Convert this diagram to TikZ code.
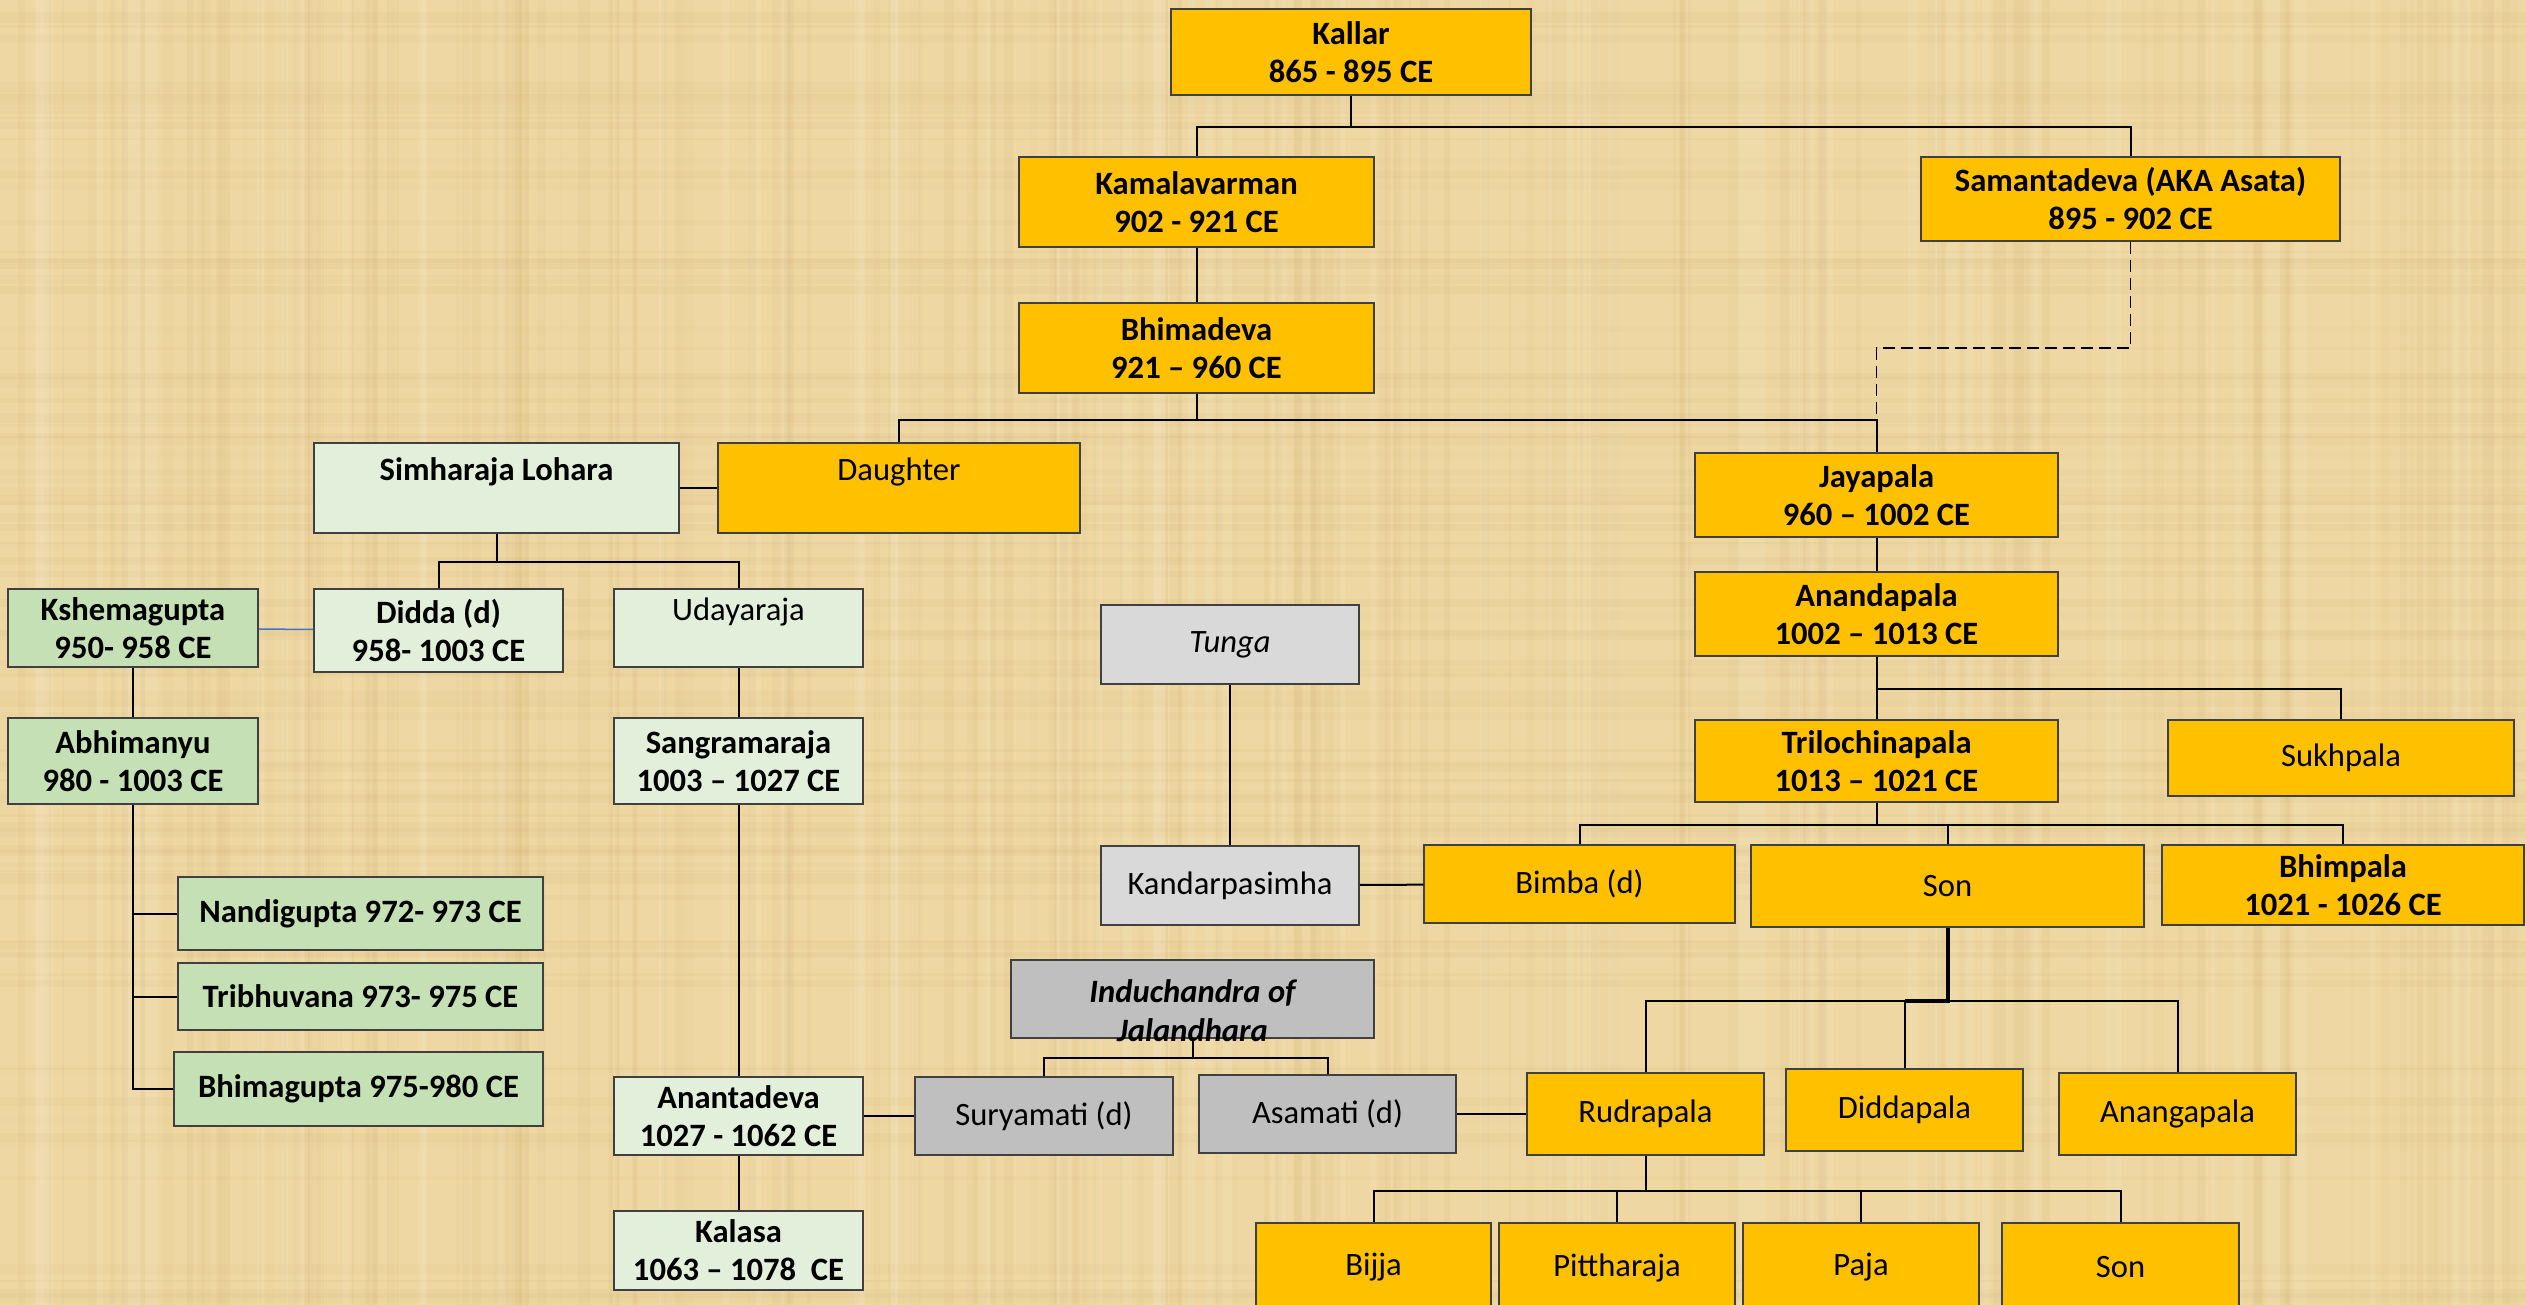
\documentclass[tikz,border=0pt]{standalone}
\usepackage{fontspec}
\setmainfont{Carlito}
\usepackage{tikz}

\definecolor{paper}{RGB}{238,215,163}
\definecolor{grain}{RGB}{196,164,96}
\definecolor{goldfill}{RGB}{255,192,0}
\definecolor{palefill}{RGB}{226,239,218}
\definecolor{leaffill}{RGB}{197,224,180}
\definecolor{ashfill}{RGB}{217,217,217}
\definecolor{slatefill}{RGB}{191,191,191}
\definecolor{boxline}{RGB}{64,64,64}
\definecolor{wedline}{RGB}{68,114,196}

\begin{document}
\begin{tikzpicture}[x=0.5pt,y=-0.5pt,line width=1pt]
	\tikzstyle{every node}=[draw=boxline,line width=0.75pt,shape=rectangle,align=center,inner sep=1pt,font=\fontsize{16.3}{19}\selectfont];
	\tikzstyle{bf}=[font=\fontsize{16.3}{19}\selectfont\bfseries];
	\tikzstyle{gold}=[fill=goldfill];
	\tikzstyle{pale}=[fill=palefill];
	\tikzstyle{leaf}=[fill=leaffill];
	\tikzstyle{ash}=[fill=ashfill];
	\tikzstyle{slate}=[fill=slatefill];
	\tikzstyle{wed}=[draw=wedline,line width=0.75pt];
	\tikzstyle{stem}=[line width=2pt];

	\useasboundingbox (0,0) rectangle (2526,1305);
	\clip (0,0) rectangle (2526,1305);
	\fill[paper] (0,0) rectangle (2526,1305);
	% papyrus weave
	\pgfmathsetseed{42}
	\foreach \i in {1,...,170} {
		\pgfmathsetmacro{\sx}{rnd*2526}
		\pgfmathsetmacro{\sw}{2+rnd*9}
		\pgfmathsetmacro{\so}{0.03+rnd*0.07}
		\fill[grain,opacity=\so] (\sx,0) rectangle ++(\sw,1305);
	}
	\foreach \i in {1,...,90} {
		\pgfmathsetmacro{\sy}{rnd*1305}
		\pgfmathsetmacro{\sw}{2+rnd*9}
		\pgfmathsetmacro{\so}{0.03+rnd*0.06}
		\fill[grain,opacity=\so] (0,\sy) rectangle ++(2526,\sw);
	}
	\foreach \i in {1,...,60} {
		\pgfmathsetmacro{\sx}{rnd*2526}
		\pgfmathsetmacro{\sw}{3+rnd*12}
		\fill[white,opacity=0.08] (\sx,0) rectangle ++(\sw,1305);
	}

	% Kallar line
	\node at (1351, 52)     (kallar)   [gold,bf,minimum width=180pt,minimum height=43pt] {Kallar\\865 - 895 CE};
	\node at (1196.5, 202)  (kamala)   [gold,bf,minimum width=177.5pt,minimum height=45pt] {Kamalavarman\\902 - 921 CE};
	\node at (2130.5, 199)  (samanta)  [gold,bf,minimum width=209.5pt,minimum height=42pt] {Samantadeva (AKA Asata)\\895 - 902 CE};
	\node at (1196.5, 348)  (bhima)    [gold,bf,minimum width=177.5pt,minimum height=45pt] {Bhimadeva\\921 – 960 CE};
	\node at (899, 488)     (daughter) [gold,minimum width=181pt,minimum height=45pt] {Daughter\\~};
	\node at (1876.5, 495)  (jaya)     [gold,bf,minimum width=181.5pt,minimum height=42pt] {Jayapala\\960 – 1002 CE};
	\node at (1876.5, 614)  (ananda)   [gold,bf,minimum width=181.5pt,minimum height=42pt] {Anandapala\\1002 – 1013 CE};
	\node at (1876.5, 761)  (trilo)    [gold,bf,minimum width=181.5pt,minimum height=41pt] {Trilochinapala\\1013 – 1021 CE};
	\node at (2341, 758)    (sukh)     [gold,minimum width=173pt,minimum height=38pt] {Sukhpala};
	\node at (1579.5, 884)  (bimba)    [gold,minimum width=155.5pt,minimum height=39pt] {Bimba (d)};
	\node at (1947.5, 886)  (son)      [gold,minimum width=196.5pt,minimum height=41pt] {Son};
	\node at (2343, 885)    (bhimpala) [gold,bf,minimum width=181pt,minimum height=40pt] {Bhimpala\\1021 - 1026 CE};
	\node at (1645.5, 1114) (rudra)    [gold,minimum width=118.5pt,minimum height=41pt] {Rudrapala};
	\node at (1904.5, 1110) (diddapala) [gold,minimum width=118.5pt,minimum height=41pt] {Diddapala};
	\node at (2177.5, 1114) (ananga)   [gold,minimum width=118.5pt,minimum height=41pt] {Anangapala};
	\node at (1373.5, 1267.5) (bijja)  [gold,minimum width=117.5pt,minimum height=44.5pt] {Bijja};
	\node at (1617, 1267.5) (pittha)   [gold,minimum width=118pt,minimum height=44.5pt] {Pittharaja};
	\node at (1861, 1267.5) (paja)     [gold,minimum width=118pt,minimum height=44.5pt] {Paja};
	\node at (2120.5, 1267.5) (sonb)   [gold,minimum width=118.5pt,minimum height=44.5pt] {Son};

	% Lohara line
	\node at (496.5, 488)   (simha)    [pale,bf,minimum width=182.5pt,minimum height=45pt] {Simharaja Lohara\\~};
	\node at (133, 628)     (kshema)   [leaf,bf,minimum width=125pt,minimum height=39pt] {Kshemagupta\\950- 958 CE};
	\node at (438.5, 630.5) (didda)    [pale,bf,minimum width=124.5pt,minimum height=41.5pt] {Didda (d)\\958- 1003 CE};
	\node at (738.5, 628)   (udaya)    [pale,minimum width=124.5pt,minimum height=39pt] {Udayaraja\\~};
	\node at (133, 761)     (abhi)     [leaf,bf,minimum width=125pt,minimum height=43pt] {Abhimanyu\\980 - 1003 CE};
	\node at (738.5, 761)   (sangrama) [pale,bf,minimum width=124.5pt,minimum height=43pt] {Sangramaraja\\1003 – 1027 CE};
	\node at (360.5, 913.5) (nandi)    [leaf,bf,minimum width=182.5pt,minimum height=36.5pt] {Nandigupta 972- 973 CE};
	\node at (360.5, 996.5) (tribhu)   [leaf,bf,minimum width=182.5pt,minimum height=33.5pt] {Tribhuvana 973- 975 CE};
	\node at (358.5, 1089)  (bhimag)   [leaf,bf,minimum width=184.5pt,minimum height=37pt] {Bhimagupta 975-980 CE};
	\node at (738.5, 1116)  (ananta)   [pale,bf,minimum width=124.5pt,minimum height=39pt] {Anantadeva\\1027 - 1062 CE};
	\node at (738.5, 1250.5) (kalasa)  [pale,bf,minimum width=124.5pt,minimum height=39.5pt] {Kalasa\\1063 – 1078\ \ CE};

	% in-laws
	\node at (1230, 644.5)  (tunga)    [ash,minimum width=129pt,minimum height=39.5pt,font=\fontsize{16.3}{19}\selectfont\itshape] {Tunga};
	\node at (1230, 885.5)  (kandar)   [ash,minimum width=129pt,minimum height=39.5pt] {Kandarpasimha};
	\node at (1192.5, 999)  (indu)     [slate,minimum width=181.5pt,minimum height=39pt] {};
	\node at (1192.5, 1011) (indutext) [draw=none,font=\fontsize{16.3}{19.5}\selectfont\bfseries\itshape] {Induchandra of\\Jalandhara};
	\node at (1044, 1116)   (surya)    [slate,minimum width=129pt,minimum height=39pt] {Suryamati (d)};
	\node at (1327.5, 1114) (asamati)  [slate,minimum width=128.5pt,minimum height=39pt] {Asamati (d)};

	\draw (kallar.south) -- +(0,31) -| (kamala.north);
	\draw (kallar.south) -- +(0,31) -| (samanta.north);
	\draw (kamala) -- (bhima);
	\draw (bhima.south) -- +(0,26) -| (daughter.north);
	\draw (bhima.south) -- +(0,26) -| (jaya.north);
	\coordinate (jayabar) at (1876.5, 419);
	\draw[dash pattern=on 6pt off 3pt,line width=0.8pt] (samanta.south) -- +(0,106) -| (jayabar);
	\draw (jaya) -- (ananda);
	\draw (ananda) -- (trilo);
	\draw (ananda.south) -- +(0,32) -| (sukh.north);
	\draw (trilo.south) -- +(0,22) -| (bimba.north);
	\draw (trilo.south) -- +(0,22) -| (son.north);
	\draw (trilo.south) -- +(0,22) -| (bhimpala.north);
	\draw (son.south) -- +(0,73) -| (rudra.north);
	\draw (son.south) -- +(0,73) -| (diddapala.north);
	\draw (son.south) -- +(0,73) -| (ananga.north);
	\draw[stem] (son.south) -- +(0,73) -- +(-43,73);
	\draw (rudra.south) -- +(0,35) -| (bijja.north);
	\draw (rudra.south) -- +(0,35) -| (pittha.north);
	\draw (rudra.south) -- +(0,35) -| (paja.north);
	\draw (rudra.south) -- +(0,35) -| (sonb.north);

	\draw (simha) -- (daughter);
	\draw (simha.south) -- +(0,28) -| (didda.north);
	\draw (simha.south) -- +(0,28) -| (udaya.north);
	\draw[wed] (kshema) -- (didda);
	\draw (kshema) -- (abhi);
	\draw (abhi.south) |- (nandi.west);
	\draw (abhi.south) |- (tribhu.west);
	\draw (abhi.south) |- (bhimag.west);
	\draw (udaya) -- (sangrama);
	\draw (sangrama) -- (ananta);
	\draw (ananta) -- (kalasa);
	\draw (ananta) -- (surya);

	\draw (tunga) -- (kandar);
	\draw (kandar) -- (bimba);
	\draw (indu.south) -- +(0,19) -| (surya.north);
	\draw (indu.south) -- +(0,19) -| (asamati.north);
	\draw (asamati) -- (rudra);
\end{tikzpicture}
\end{document}
